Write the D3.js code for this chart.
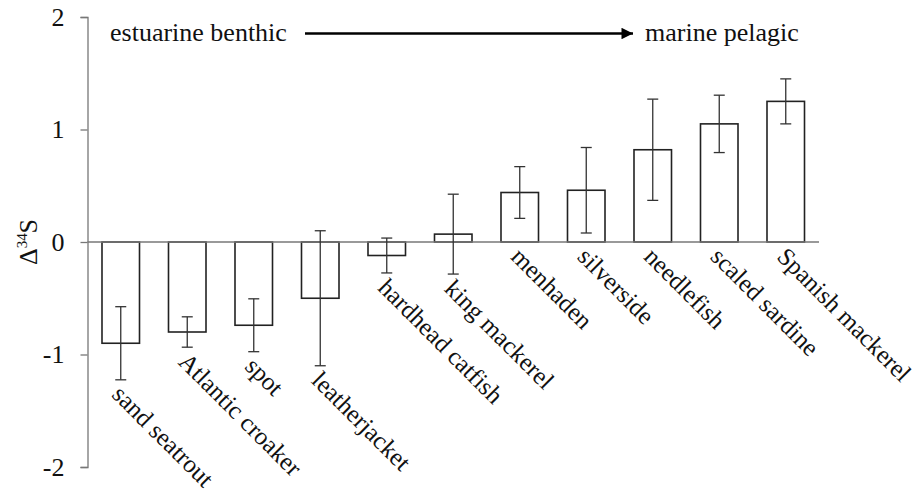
<!DOCTYPE html>
<html>
<head>
<meta charset="utf-8">
<script src="https://cdn.jsdelivr.net/npm/d3@7"></script>
<style>
  html, body { margin: 0; padding: 0; background: #fff; }
  svg { display: block; }
  svg text { font-family: "Liberation Serif", "DejaVu Serif", serif; fill: #111; }
</style>
</head>
<body>
<svg id="chart" width="921" height="490"></svg>
<script>
const categories = ["sand seatrout", "Atlantic croaker", "spot", "leatherjacket", "hardhead catfish",
  "king mackerel", "menhaden", "silverside", "needlefish", "scaled sardine", "Spanish mackerel"];
const means = [-0.90, -0.80, -0.74, -0.50, -0.12, 0.07, 0.44, 0.46, 0.82, 1.05, 1.25];
const errors = [0.325, 0.135, 0.235, 0.60, 0.155, 0.355, 0.23, 0.38, 0.45, 0.255, 0.20];
const yTicks = [-2, -1, 0, 1, 2];
const leftLabel = "estuarine benthic";
const rightLabel = "marine pelagic";

const FONT = "'Liberation Serif', 'DejaVu Serif', serif";
const svg = d3.select("#chart").attr("font-family", FONT);

const x = d3.scaleBand().domain(categories).range([87.5, 819]).paddingInner(0.436).paddingOuter(0.218);
const y = d3.scaleLinear().domain([-2, 2]).range([467, 17]);

// y axis
const yAxis = d3.axisLeft(y).tickValues(yTicks).tickSize(7).tickPadding(16).tickFormat(d => String(d));
const gy = svg.append("g").attr("transform", "translate(87.5,0)").call(yAxis);
gy.attr("font-family", FONT).attr("font-size", 26);
gy.select(".domain").attr("stroke", "#777").attr("stroke-width", 1.3);
gy.selectAll(".tick line").attr("stroke", "#777").attr("stroke-width", 1.3);
gy.selectAll(".tick text").attr("font-size", 26).attr("fill", "#111").attr("font-family", FONT);

// bars
const data = categories.map((c, i) => ({ c, m: means[i], e: errors[i] }));
svg.append("g").selectAll("rect").data(data).join("rect")
  .attr("x", d => x(d.c))
  .attr("width", x.bandwidth())
  .attr("y", d => y(Math.max(0, d.m)))
  .attr("height", d => Math.abs(y(d.m) - y(0)))
  .attr("fill", "#fff")
  .attr("stroke", "#222")
  .attr("stroke-width", 1.6);

// zero line
svg.append("line")
  .attr("x1", 87.5).attr("x2", 819)
  .attr("y1", y(0)).attr("y2", y(0))
  .attr("stroke", "#777").attr("stroke-width", 1.5);

// error bars
const eb = svg.append("g").attr("stroke", "#333").attr("stroke-width", 1.3);
data.forEach(d => {
  const cx = x(d.c) + x.bandwidth() / 2;
  eb.append("line").attr("x1", cx).attr("x2", cx).attr("y1", y(d.m + d.e)).attr("y2", y(d.m - d.e));
  eb.append("line").attr("x1", cx - 5.5).attr("x2", cx + 5.5).attr("y1", y(d.m + d.e)).attr("y2", y(d.m + d.e));
  eb.append("line").attr("x1", cx - 5.5).attr("x2", cx + 5.5).attr("y1", y(d.m - d.e)).attr("y2", y(d.m - d.e));
});

// category labels
svg.append("g").selectAll("text").data(data).join("text")
  .attr("transform", d => {
    const cx = x(d.c) + x.bandwidth() / 2;
    const low = y(Math.min(0, d.m - d.e));
    return `translate(${cx - 10},${low + 16}) rotate(45)`;
  })
  .attr("font-size", 25)
  .attr("font-family", FONT)
  .attr("text-anchor", "start")
  .text(d => d.c);

// y axis title
const yt = svg.append("text")
  .attr("transform", "translate(37,242) rotate(-90)")
  .attr("text-anchor", "middle")
  .attr("font-family", FONT)
  .attr("font-size", 26);
yt.append("tspan").text("Δ");
yt.append("tspan").attr("font-size", 15).attr("dy", -10).text("34");
yt.append("tspan").attr("dy", 10).text("S");

// top annotation
svg.append("text").attr("x", 110).attr("y", 41).attr("font-size", 26).attr("font-family", FONT).text(leftLabel);
svg.append("text").attr("x", 645).attr("y", 41).attr("font-size", 26).attr("font-family", FONT).text(rightLabel);
svg.append("defs").append("marker")
  .attr("id", "arrow").attr("viewBox", "0 0 10 10").attr("refX", 10).attr("refY", 5)
  .attr("markerWidth", 6).attr("markerHeight", 5).attr("markerUnits", "strokeWidth")
  .attr("orient", "auto")
  .append("path").attr("d", "M0,0 L10,5 L0,10 Z").attr("fill", "#000");
svg.append("line")
  .attr("x1", 305).attr("x2", 633).attr("y1", 33.5).attr("y2", 33.5)
  .attr("stroke", "#000").attr("stroke-width", 2.3)
  .attr("marker-end", "url(#arrow)");
</script>
</body>
</html>
